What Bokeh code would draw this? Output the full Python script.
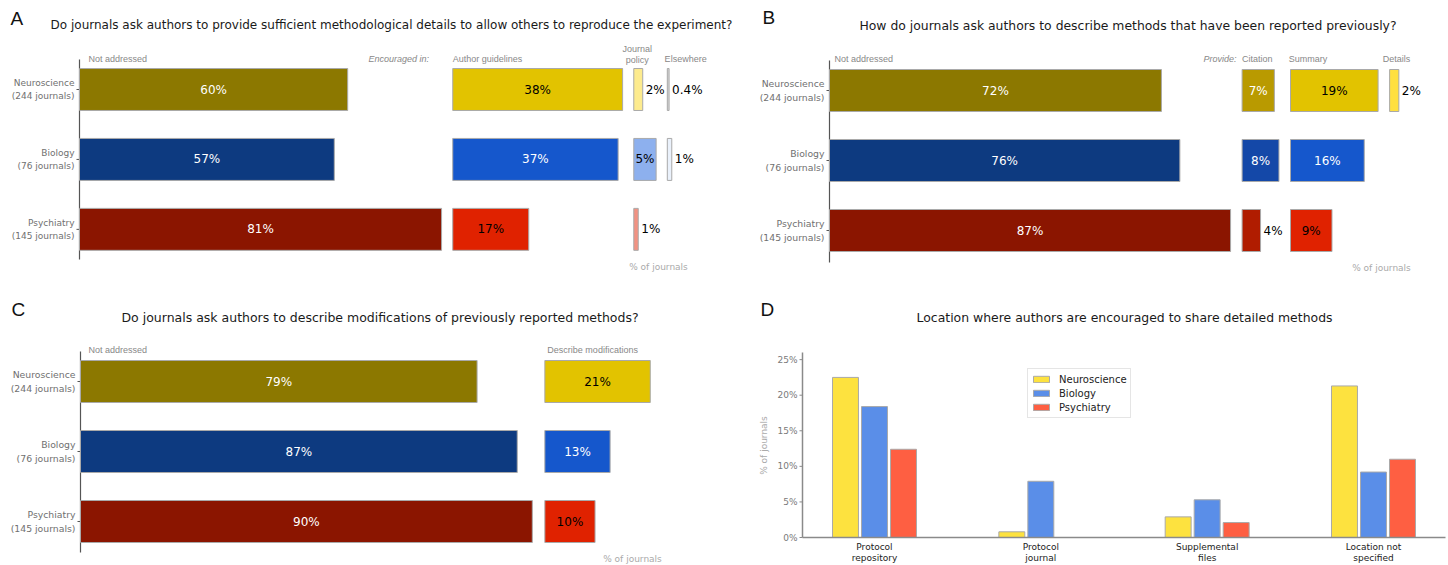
import math
from bokeh.plotting import figure
from bokeh.models import Range1d, Label, ColumnDataSource
from bokeh.layouts import row, column
from bokeh.transform import dodge
from bokeh.embed import file_html
from bokeh.resources import INLINE
from bokeh.core.properties import value

# ------------------------------------------------------------------ data
fields = ["Neuroscience", "Biology", "Psychiatry"]
journal_counts = [244, 76, 145]

# A: sufficient methodological detail
a_not_addressed = [60, 57, 81]
a_author_guidelines = [38, 37, 17]
a_journal_policy = [2, 5, 1]
a_elsewhere = [0.4, 1, 0]

# B: previously reported methods
b_not_addressed = [72, 76, 87]
b_citation = [7, 8, 4]
b_summary = [19, 16, 9]
b_details = [2, 0, 0]

# C: modifications of previously reported methods
c_not_addressed = [79, 87, 90]
c_describe_modifications = [21, 13, 10]

# D: where detailed methods should be shared
d_locations = ["Protocol\nrepository", "Protocol\njournal",
               "Supplemental\nfiles", "Location not\nspecified"]
d_neuroscience = [22.5, 0.8, 2.9, 21.3]
d_biology = [18.4, 7.9, 5.3, 9.2]
d_psychiatry = [12.4, 0.0, 2.1, 11.0]
d_ticks = [0, 5, 10, 15, 20, 25]
d_top = 26

# ---------------------------------------------------------------- styles
DARK = ["#8c7800", "#0d3a80", "#8b1500"]
BRIGHT = ["#e2c300", "#1557cc", "#e02200"]
LIGHT = ["#fdeb8e", "#8db0ee", "#f29282"]
PALE = ["#d6d6d6", "#eaf1fb", "#fbe0da"]
CITE = ["#b99a00", "#1448a8", "#b01c00"]
DETAIL = ["#ffe040", "#6c9cf0", "#ff6a4a"]
INK_WHITE = ["white", "white", "white"]
INK_BRIGHT = ["black", "white", "black"]
INK_BLACK = ["black", "black", "black"]
D_COLORS = ["#fde23f", "#5a8ee8", "#fe5f42"]
EDGE = "#a9a9a9"
GAP = 2.5          # spacing between stacked groups, in % units
INSIDE_MIN = 5     # values at least this large carry their label inside the bar
BAR_HEIGHT = 0.6
BODY_FONT = "DejaVu Sans"
HEAD_FONT = "Liberation Sans"
LETTER_SIZE = "19px"


class Panel:
    """Linear map between page pixels and one figure's data coordinates."""

    def __init__(self, x0px, sx, y0px, sy, fig_box):
        self.x0px, self.sx, self.y0px, self.sy = x0px, sx, y0px, sy
        self.fx, self.fy, self.w, self.h = fig_box

    def x(self, px):
        return (px - self.x0px) / self.sx

    def y(self, py):
        return (py - self.y0px) / self.sy

    def figure(self):
        p = figure(width=self.w, height=self.h, title=None,
                   x_range=Range1d(self.x(self.fx), self.x(self.fx + self.w)),
                   y_range=Range1d(self.y(self.fy + self.h), self.y(self.fy)),
                   x_axis_location=None, y_axis_location=None,
                   toolbar_location=None, output_backend="svg", min_border=0)
        p.outline_line_color = None
        p.grid.visible = False
        return p


def add_text(p, m, px, py, text, size="9px", color="#888888", font=HEAD_FONT,
             align="left", style="normal", angle=0.0):
    p.add_layout(Label(x=m.x(px), y=m.y(py), text=text, text_font=font,
                       text_font_size=size, text_color=color, text_align=align,
                       text_baseline="middle", text_font_style=style, angle=angle))


def category_axis(p, m, top_px, bottom_px, size="9px"):
    """Left spine with one tick and a two-line label per field."""
    p.segment(x0=[0], y0=[m.y(top_px)], x1=[0], y1=[m.y(bottom_px)],
              line_color="#555555", line_width=1.2)
    ys = list(range(len(fields)))
    p.segment(x0=[-3 / m.sx] * len(ys), y0=ys, x1=[0] * len(ys), y1=ys,
              line_color="#555555", line_width=1)
    p.text(x=[0] * len(ys), y=ys,
           text=[f"{f}\n({n} journals)" for f, n in zip(fields, journal_counts)],
           x_offset=-5, text_align="right", text_baseline="middle",
           text_font=value(BODY_FONT), text_font_size=size, text_color="#707070",
           text_line_height=1.3)


def draw_groups(p, groups):
    starts = []
    offset = 0.0
    for vals, fills, inks in groups:
        starts.append(offset)
        idx = [i for i, v in enumerate(vals) if v > 0]
        src = ColumnDataSource(dict(
            y=idx,
            left=[offset] * len(idx),
            right=[offset + vals[i] for i in idx],
            fill=[fills[i] for i in idx]))
        p.hbar(y="y", left="left", right="right", height=BAR_HEIGHT, fill_color="fill",
               line_color=EDGE, line_width=1, source=src)
        inside = [i for i in idx if vals[i] >= INSIDE_MIN]
        outside = [i for i in idx if vals[i] < INSIDE_MIN]
        if inside:
            s = ColumnDataSource(dict(
                x=[offset + vals[i] / 2 for i in inside], y=inside,
                t=[f"{vals[i]:g}%" for i in inside],
                ink=[inks[i] for i in inside]))
            p.text(x="x", y="y", text="t", text_color="ink", text_align="center",
                   text_baseline="middle", text_font=value(BODY_FONT),
                   text_font_size="12px", source=s)
        if outside:
            s = ColumnDataSource(dict(
                x=[offset + vals[i] for i in outside], y=outside,
                t=[f"{vals[i]:g}%" for i in outside]))
            p.text(x="x", y="y", text="t", text_color="black", text_align="left",
                   text_baseline="middle", x_offset=3, text_font=value(BODY_FONT),
                   text_font_size="12px", source=s)
        offset += max(vals) + GAP
    return starts


def gx(m, starts, k, delta):
    """Page x of a point `delta` % units after the start of group k."""
    return m.x0px + (starts[k] + delta) * m.sx


TOP_SPLIT = 744   # page x where the upper row switches from panel A to panel B

# ----------------------------------------------------------------- panel A
mA = Panel(79, 4.47, 89, 200 / 2.86, (0, 0, TOP_SPLIT, 285))
pA = mA.figure()
category_axis(pA, mA, 59, 259)
sA = draw_groups(pA, [(a_not_addressed, DARK, INK_WHITE),
                      (a_author_guidelines, BRIGHT, INK_BRIGHT),
                      (a_journal_policy, LIGHT, INK_BLACK),
                      (a_elsewhere, PALE, INK_BLACK)])
add_text(pA, mA, 10, 18, "A", size=LETTER_SIZE, color="#111111")
add_text(pA, mA, 391, 24, "Do journals ask authors to provide sufficient methodological "
         "details to allow others to reproduce the experiment?",
         size="12px", color="#1a1a1a", font=BODY_FONT, align="center")
add_text(pA, mA, 88, 58, "Not addressed")
add_text(pA, mA, gx(mA, sA, 1, -5.3), 58, "Encouraged in:", align="right", style="italic")
add_text(pA, mA, gx(mA, sA, 1, 0), 58, "Author guidelines")
add_text(pA, mA, gx(mA, sA, 2, 0.8), 48, "Journal", align="center")
add_text(pA, mA, gx(mA, sA, 2, 0.8), 59.5, "policy", align="center")
add_text(pA, mA, gx(mA, sA, 3, -0.6), 58, "Elsewhere")
add_text(pA, mA, 658, 266, "% of journals", color="#aaaaaa", font=BODY_FONT, align="center")

# ----------------------------------------------------------------- panel B
mB = Panel(829, 4.61, 90, 70, (TOP_SPLIT, 0, 1448 - TOP_SPLIT, 285))
pB = mB.figure()
category_axis(pB, mB, 60, 262, size="9.3px")
sB = draw_groups(pB, [(b_not_addressed, DARK, INK_WHITE),
                      (b_citation, CITE, INK_WHITE),
                      (b_summary, BRIGHT, INK_BRIGHT),
                      (b_details, DETAIL, INK_BLACK)])
add_text(pB, mB, 762, 17, "B", size=LETTER_SIZE, color="#111111")
add_text(pB, mB, 1127.5, 25, "How do journals ask authors to describe methods that have "
         "been reported previously?",
         size="12.4px", color="#1a1a1a", font=BODY_FONT, align="center")
add_text(pB, mB, 834, 58, "Not addressed")
add_text(pB, mB, gx(mB, sB, 1, -1.2), 58, "Provide:", align="right", style="italic")
add_text(pB, mB, gx(mB, sB, 1, 0), 58, "Citation")
add_text(pB, mB, gx(mB, sB, 2, -0.4), 58, "Summary")
add_text(pB, mB, gx(mB, sB, 3, 1.5), 58, "Details", align="center")
add_text(pB, mB, 1381, 267, "% of journals", color="#aaaaaa", font=BODY_FONT, align="center")

# ----------------------------------------------------------------- panel C
mC = Panel(80, 5.02, 381, 70, (0, 285, 724, 280))
pC = mC.figure()
category_axis(pC, mC, 351, 552, size="9.3px")
sC = draw_groups(pC, [(c_not_addressed, DARK, INK_WHITE),
                      (c_describe_modifications, BRIGHT, INK_BRIGHT)])
add_text(pC, mC, 11, 309, "C", size=LETTER_SIZE, color="#111111")
add_text(pC, mC, 379.5, 317, "Do journals ask authors to describe modifications of "
         "previously reported methods?",
         size="12.5px", color="#1a1a1a", font=BODY_FONT, align="center")
add_text(pC, mC, 88, 349, "Not addressed")
add_text(pC, mC, gx(mC, sC, 1, 0.5), 349, "Describe modifications")
add_text(pC, mC, 632, 558, "% of journals", color="#aaaaaa", font=BODY_FONT, align="center")

# ----------------------------------------------------------------- panel D
mD = Panel(874, 166.33, 537, -7.115, (724, 285, 724, 280))
pD = mD.figure()
x_lo, x_hi = mD.x(802), mD.x(1445)
n_loc = len(d_locations)

d_src = ColumnDataSource(dict(x=list(range(n_loc)),
                              neuro=d_neuroscience, bio=d_biology, psych=d_psychiatry))
for col, off, color, name in zip(["neuro", "bio", "psych"], [-0.1744, 0.0, 0.1744],
                                 D_COLORS, fields):
    pD.vbar(x=dodge("x", off, range=pD.x_range), top=col, width=0.156,
            fill_color=color, line_color=EDGE, line_width=1, source=d_src,
            legend_label=name)

# spines
pD.segment(x0=[x_lo, x_lo], y0=[0, 0], x1=[x_lo, x_hi], y1=[d_top, 0],
           line_color="#8a8a8a", line_width=1.5)
# y ticks and labels
pD.segment(x0=[x_lo - 3 / mD.sx] * len(d_ticks), y0=d_ticks,
           x1=[x_lo] * len(d_ticks), y1=d_ticks, line_color="#8a8a8a", line_width=1)
pD.text(x=[x_lo] * len(d_ticks), y=d_ticks, text=[f"{t}%" for t in d_ticks],
        x_offset=-5, text_align="right", text_baseline="middle",
        text_font=value(BODY_FONT), text_font_size="9px", text_color="#7a7a7a")
# category labels under the bars
pD.text(x=list(range(n_loc)), y=[mD.y(541)] * n_loc, text=d_locations,
        text_align="center", text_baseline="top", text_font=value(BODY_FONT),
        text_font_size="9px", text_color="#222222", text_line_height=1.15)
add_text(pD, mD, 763, 445, "% of journals", color="#aaaaaa", font=BODY_FONT,
         align="center", angle=math.pi / 2)

lg = pD.legend[0]
lg.location = (1027 - 724, 565 - 418)
lg.label_text_font = BODY_FONT
lg.label_text_font_size = "10px"
lg.label_text_color = "#222222"
lg.glyph_width = 20
lg.glyph_height = 8
lg.label_standoff = 8
lg.label_height = 14
lg.spacing = 0
lg.padding = 3
lg.margin = 0
lg.border_line_color = "#cccccc"
lg.background_fill_alpha = 1.0

add_text(pD, mD, 760, 309, "D", size=LETTER_SIZE, color="#111111")
add_text(pD, mD, 1124, 317, "Location where authors are encouraged to share detailed methods",
         size="12.45px", color="#1a1a1a", font=BODY_FONT, align="center")

layout = column(row(pA, pB), row(pC, pD))
open("out.html", "w").write(file_html(layout, INLINE))
